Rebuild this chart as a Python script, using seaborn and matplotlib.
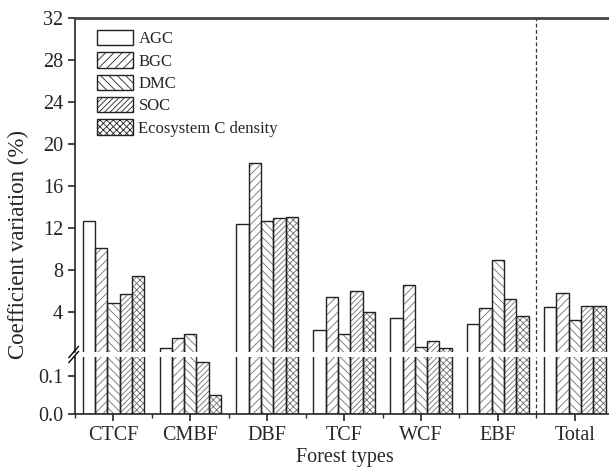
import matplotlib
matplotlib.use('Agg')
import matplotlib.pyplot as plt
from matplotlib.patches import Rectangle, Patch
from matplotlib.ticker import MultipleLocator
import seaborn as sns
import pandas as pd
import numpy as np

# ---- data ------------------------------------------------------------
forest_types = ['CTCF', 'CMBF', 'DBF', 'TCF', 'WCF', 'EBF', 'Total']
components = ['AGC', 'BGC', 'DMC', 'SOC', 'Ecosystem C density']
agc = [12.7, 0.6, 12.4, 2.25, 3.4, 2.85, 4.45]
bgc = [10.1, 1.5, 18.2, 5.45, 6.55, 4.4, 5.85]
dmc = [4.9, 1.9, 12.7, 1.95, 0.7, 9.0, 3.25]
soc = [5.7, 0.138, 13.0, 6.0, 1.2, 5.25, 4.6]
eco = [7.4, 0.051, 13.1, 4.05, 0.6, 3.6, 4.6]
hatches = ['', '////', '\\\\\\\\', '//////', 'xxxxx']

df = pd.DataFrame({
    'Forest': np.tile(forest_types, len(components)),
    'Component': np.repeat(components, len(forest_types)),
    'CV': agc + bgc + dmc + soc + eco,
})

sns.set_style('ticks')
plt.rcParams['font.family'] = ['Liberation Serif', 'DejaVu Serif']
plt.rcParams['hatch.linewidth'] = 0.6
plt.rcParams['axes.linewidth'] = 1.2

fig = plt.figure(figsize=(6.09, 4.69), dpi=100)
left, right = 0.123, 1.007
ax_top = fig.add_axes([left, 0.2495, right - left, 0.9616 - 0.2495])
ax_bot = fig.add_axes([left, 0.1173, right - left, 0.2388 - 0.1173])


def draw_bars(ax):
    sns.barplot(data=df, x='Forest', y='CV', hue='Component', order=forest_types,
                hue_order=components, palette=['white'] * 5, saturation=1,
                width=0.8, errorbar=None, legend=False, ax=ax)
    for cont, h in zip(ax.containers, hatches):
        for p in cont.patches:
            p.set_hatch(h)
            p.set_edgecolor('#6e6e6e')
            p.set_linewidth(0)
            ax.add_patch(Rectangle(p.get_xy(), p.get_width(), p.get_height(),
                                   fill=False, edgecolor='#222222', linewidth=1.0))
    ax.axvline(5.5, color='#333333', linestyle=(0, (3, 2)), linewidth=0.9)
    ax.set_xlim(-0.5, 6.5)
    ax.set_xlabel('')
    ax.set_ylabel('')


draw_bars(ax_top)
draw_bars(ax_bot)

# upper panel
ax_top.set_ylim(0.2, 32)
ax_top.set_yticks([4, 8, 12, 16, 20, 24, 28, 32])
ax_top.tick_params(axis='x', which='both', bottom=False, labelbottom=False)
ax_top.tick_params(axis='y', direction='out', length=5, width=1.2, labelsize=14.5)
ax_top.spines['bottom'].set_visible(False)
ax_top.spines['top'].set_color('#444444')
ax_top.spines['top'].set_linewidth(2)

# lower panel
ax_bot.set_ylim(0, 0.152)
ax_bot.set_yticks([0.0, 0.1])
ax_bot.set_yticklabels(['0.0', '0.1'])
ax_bot.spines['top'].set_visible(False)
ax_bot.set_xticks(range(len(forest_types)))
ax_bot.set_xticklabels(forest_types)
ax_bot.xaxis.set_minor_locator(MultipleLocator(1, offset=0.5))
ax_bot.tick_params(axis='x', which='major', direction='out', length=5, width=1.2,
                   labelsize=14.5)
ax_bot.tick_params(axis='x', which='minor', direction='out', length=3, width=1.0)
ax_bot.tick_params(axis='y', direction='out', length=5, width=1.2, labelsize=14.5)

# break marks on the left spine
for yb in (0.2495, 0.2388):
    fig.add_artist(plt.Line2D([left - 0.010, left + 0.006], [yb - 0.012, yb + 0.012],
                              color='black', linewidth=1.0, transform=fig.transFigure))

# legend
handles = [Patch(facecolor='white', edgecolor='#222222', hatch=h, linewidth=1.0)
           for h in hatches]
leg = ax_top.legend(handles, components, loc='upper left', bbox_to_anchor=(0.022, 0.995),
                    frameon=False, fontsize=12, handlelength=2.2, handleheight=1.05,
                    labelspacing=0.3, handletextpad=0.3, borderaxespad=0.2)

fig.text(0.566, 0.004, 'Forest types', ha='center', va='bottom', fontsize=14.5)
fig.text(0.03, 0.478, 'Coefficient variation (%)', rotation=90, ha='center',
         va='center', fontsize=16.5)

plt.savefig('out.png', dpi=100)
plt.close()
